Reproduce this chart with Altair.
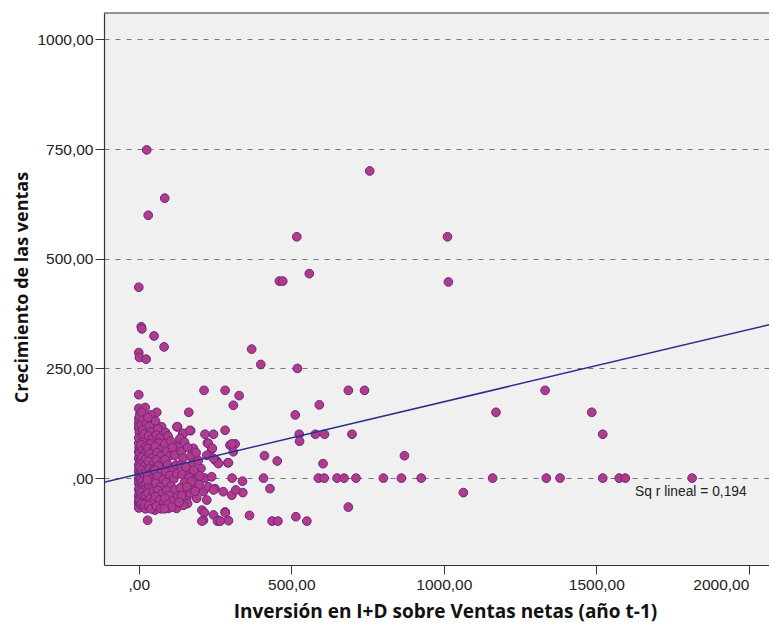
import altair as alt
import pandas as pd

# ---- data ----
outlier_x = [26, 85, 31, 518, 461, 472, 559, 0, 8, 10, 50, 83, 0, 2, 24, 370, 400, 520, 757, 1012, 1015,
             329, 687, 740, 592, 513, 526, 527, 579, 609, 699, 412, 454, 871, 604,
             306, 409, 589, 608, 650, 673, 712, 802, 861, 926, 1160, 1336, 1381, 1521, 1575, 1595, 1814,
             340, 341, 430, 363, 437, 456, 515, 551, 687, 1064, 1332, 1171, 1485, 1521]
outlier_y = [748, 638, 599, 550, 449, 449, 466, 435, 345, 340, 324, 299, 286, 275, 271, 294, 259, 250, 700, 550, 447,
             188, 200, 200, 167, 144, 100, 84, 100, 100, 100, 51, 39, 51, 33,
             0, 0, 0, 0, 0, 0, 0, 0, 0, 0, 0, 0, 0, 0, 0, 0, 0,
             -7, -33, -24, -85, -98, -98, -88, -98, -66, -33, 200, 150, 150, 100]

mid_x = [0, 214, 283, 310, 164, 59, 283, 127, 170, 144, 217, 245, 75, 179, 225, 239, 299, 316, 310, 256, 292,
         228, 241, 305, 294, 305, 277, 318, 223, 190, 207, 215, 283, 245, 261, 294, 212, 29, 53, 97, 124, 0,
         130, 157, 152, 174, 212, 228, 250, 190, 217, 239, 204, 185, 163, 250, 261, 223, 245, 168, 245, 207,
         258, 267, 284,
         0, 21, 4, 40, 37, 15, 0, 125, 146, 168, 59, 86, 64, 43, 4, 21, 0, 97, 119, 130]
mid_y = [190, 200, 200, 166, 150, 150, 109, 117, 108, 100, 100, 100, 117, 68, 80, 66, 75, 78, 60, 39, 35,
         79, 68, 78, 35, -39, -31, -27, -50, -46, -73, -79, -77, -84, -96, -97, -96, -96, -73, -69, -69, -58,
         -50, -46, -31, -20, -31, -20, -24, -5, 0, 3, 22, 14, 11, 41, 33, 52, 45, -34, -27, -98,
         -98, -98, -79,
         159, 161, 147, 144, 128, 128, 125, 117, 102, 109, 115, 84, 90, 87, 98, 102, 113, 75, 75, 71]

core_x = [0, 1, 0, 2, 0, 3, 0, 1, 0, 2, 0, 1, 0, 3, 0, 2, 0, 1, 0, 2, 0, 4, 5, 3, 6, 4, 5, 6, 4, 5, 3, 6, 0, 2, 0, 1, 3,
          10, 12, 9, 14, 11, 16, 8, 13, 18, 10, 15, 20, 9, 14, 19, 11, 16, 21, 8, 13, 18, 10, 15, 22, 24, 23, 25, 24, 22, 20, 17, 25,
          30, 35, 40, 32, 45, 38, 30, 48, 36, 42, 31, 47, 35, 44, 30, 40, 48, 33, 42, 30, 46, 37, 44, 32, 40, 50, 28, 49,
          55, 62, 58, 70, 66, 54, 75, 60, 72, 57, 78, 64, 53, 74, 61, 80, 56, 70, 62, 77, 55, 68, 79, 58, 72,
          88, 96, 85, 105, 92, 110, 100, 86, 118, 95, 108, 88, 122, 102, 115, 90, 125, 105, 92, 118, 100, 86, 112, 128, 95, 108, 84,
          135, 150, 140, 160, 145, 170, 138, 155, 178, 142, 165, 180, 150, 172, 136, 158, 195, 188, 140, 160, 198, 185, 200, 146, 132]
core_y = [80, 70, 60, 52, 45, 38, 30, 22, 15, 8, 0, -6, -12, -18, -25, -32, -40, -47, -55, -62, -68, 90, 66, 58, 42, 26, 12, -2, -28, -44, -52, -60, 135, 104, 92, 118, 140,
          150, 132, 120, 110, 95, 85, 76, 64, 55, 48, 36, 28, 18, 10, 2, -8, -16, -24, -33, -42, -50, -58, -66, -70, 72, 44, 16, -12, -38, -60, 100, 125,
          138, 118, 105, 96, 90, 78, 68, 62, 55, 46, 38, 30, 22, 14, 6, -2, -10, -18, -26, -34, -40, -48, -56, -62, -70, 20, -4, -30,
          130, 112, 98, 92, 80, 72, 66, 58, 50, 42, 36, 28, 18, 12, 4, -4, -12, -20, -28, -36, -42, -50, -58, -64, -70,
          104, 96, 78, 84, 62, 70, 50, 42, 52, 30, 22, 14, 30, 6, -2, -10, 10, -18, -28, -26, -40, -46, -52, -40, -60, -66, -70,
          90, 82, 60, 70, 45, 50, 30, 25, 35, 8, 2, 18, -10, -8, -22, -20, 40, 58, -40, -58, -15, -30, 5, -62, -55]

X_DOMAIN = [-114, 2066]
Y_DOMAIN = [-198, 1060]
X_TICKS = [0, 500, 1000, 1500, 2000]
Y_TICKS = [0, 250, 500, 750, 1000]

fit_intercept = 9.5
fit_slope = 0.1645

label_x = [1627]
label_y = [-32]
label_text = ["Sq r lineal = 0,194"]

# ---- tables ----
pts = pd.DataFrame({"x": outlier_x + mid_x + core_x, "y": outlier_y + mid_y + core_y})
fit = pd.DataFrame({"x": X_DOMAIN, "y": [fit_intercept + fit_slope * v for v in X_DOMAIN]})
lab = pd.DataFrame({"x": label_x, "y": label_y, "t": label_text})

W, H = 665, 552
LABEL_FONT = "Liberation Sans"
TITLE_FONT = "Open Sans"

xscale = alt.Scale(domain=X_DOMAIN, nice=False, zero=False)
yscale = alt.Scale(domain=Y_DOMAIN, nice=False, zero=False)

xaxis = alt.Axis(
    values=X_TICKS,
    labelExpr="datum.value == 0 ? ',00' : datum.value + ',00'",
    labelAlign={"condition": {"test": "datum.value == 2000", "value": "right"}, "value": "center"},
    grid=False, tickSize=9, tickColor="#333", labelPadding=3, labelFlush=False,
    labelFont=LABEL_FONT, labelFontSize=15.5, labelColor="#222",
    domainColor="#333", domainWidth=1.2,
    title="Inversión en I+D sobre Ventas netas (año t-1)",
    titleFont=TITLE_FONT, titleFontSize=19, titleFontWeight="bold", titleColor="#111",
    titleX=341, titleY=46, titleAlign="center", titleBaseline="middle",
)
yaxis = alt.Axis(
    values=Y_TICKS,
    labelExpr="datum.value == 0 ? ',00' : datum.value + ',00'",
    grid=True, gridDash=[5, 6], gridColor="#777", gridWidth=1,
    tickSize=9, tickColor="#333", labelPadding=2,
    labelFont=LABEL_FONT, labelFontSize=15.5, labelColor="#222",
    domainColor="#333", domainWidth=1.2,
    title="Crecimiento de las ventas",
    titleFont=TITLE_FONT, titleFontSize=18, titleFontWeight="bold", titleColor="#111",
    titleX=-82, titleY=H / 2 - 2, titleAngle=-90, titleAlign="center", titleBaseline="middle",
)

points = alt.Chart(pts).mark_circle(
    size=76, color="#B3398A", stroke="#6B2A82", strokeWidth=1, opacity=1
).encode(
    x=alt.X("x:Q", scale=xscale, axis=xaxis),
    y=alt.Y("y:Q", scale=yscale, axis=yaxis),
)

line = alt.Chart(fit).mark_line(color="#2E2E8A", strokeWidth=1.5, clip=True).encode(
    x=alt.X("x:Q", scale=xscale),
    y=alt.Y("y:Q", scale=yscale),
)

text = alt.Chart(lab).mark_text(
    align="left", baseline="middle", font=LABEL_FONT, fontSize=13.8, color="#222"
).encode(
    x=alt.X("x:Q", scale=xscale),
    y=alt.Y("y:Q", scale=yscale),
    text="t:N",
)

top_border = alt.Chart(lab).mark_rule(color="#333", strokeWidth=1.2).encode(
    x=alt.value(0), x2=alt.value(W), y=alt.value(0)
)

chart = alt.layer(points, line, text, top_border).properties(
    width=W, height=H,
    autosize=alt.AutoSizeParams(type="none"),
    padding={"left": 96, "top": 5, "right": 0, "bottom": 57},
    background="white",
).configure_view(fill="#F0F0F0", stroke=None)

chart.save("out.html", embed_options={"renderer": "svg", "actions": False})
